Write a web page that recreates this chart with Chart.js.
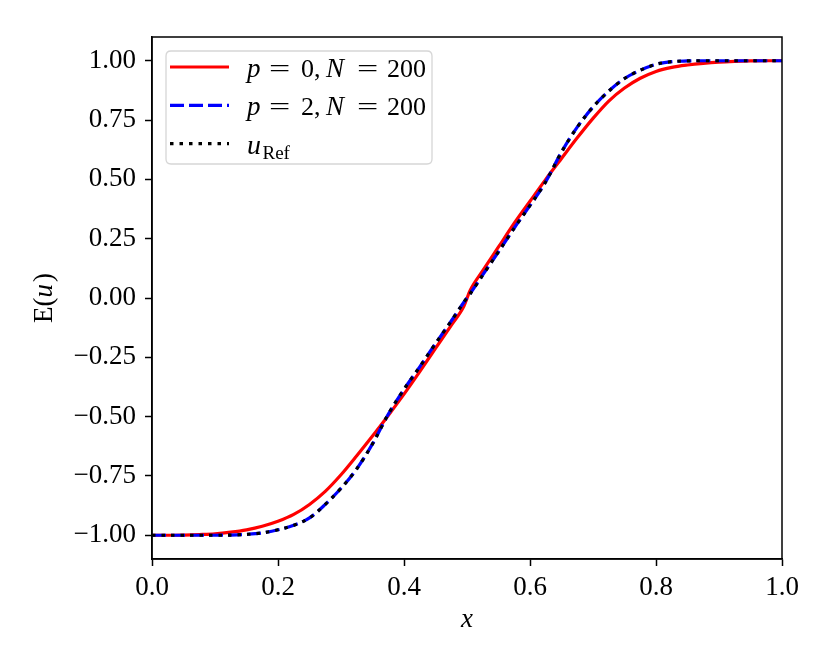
<!DOCTYPE html>
<html>
<head>
<meta charset="utf-8">
<script src="https://cdn.jsdelivr.net/npm/chart.js@4.4.1/dist/chart.umd.min.js"></script>
<style>
    html, body { margin: 0; padding: 0; background: #fff; }
    #wrap { width: 830px; height: 664px; }
</style>
</head>
<body>
<div id="wrap"><canvas id="solutionChart" width="830" height="664"></canvas></div>
<script>
// === Dữ liệu ===
const xValues   = [0, 0.025, 0.05, 0.075, 0.1, 0.125, 0.15, 0.175, 0.2, 0.225, 0.25, 0.275, 0.3, 0.325, 0.35, 0.375, 0.4, 0.425, 0.45, 0.475, 0.495,
                   0.505, 0.525, 0.55, 0.575, 0.6, 0.625, 0.65, 0.675, 0.7, 0.725, 0.75, 0.775, 0.8, 0.825, 0.85, 0.875, 0.9, 0.925, 0.95, 0.975, 1.0];
const p0Values  = [-1.0, -1.0, -0.999, -0.997, -0.994, -0.987, -0.977, -0.962, -0.941, -0.912, -0.870, -0.815, -0.745, -0.665, -0.582, -0.495, -0.405, -0.310, -0.212, -0.115, -0.035,
                   0.032, 0.115, 0.215, 0.315, 0.408, 0.500, 0.588, 0.675, 0.757, 0.830, 0.885, 0.926, 0.955, 0.972, 0.982, 0.989, 0.994, 0.997, 0.999, 1.0, 1.0];
const p2Values  = [-1.0, -1.0, -1.0, -1.0, -1.0, -0.999, -0.996, -0.990, -0.977, -0.958, -0.927, -0.870, -0.802, -0.720, -0.615, -0.490, -0.385, -0.290, -0.192, -0.097, -0.018,
                   0.018, 0.097, 0.195, 0.295, 0.390, 0.490, 0.615, 0.720, 0.805, 0.872, 0.925, 0.960, 0.985, 0.996, 0.999, 1.0, 1.0, 1.0, 1.0, 1.0, 1.0];
const refValues = [-1.0, -1.0, -1.0, -1.0, -1.0, -0.999, -0.996, -0.990, -0.977, -0.958, -0.927, -0.870, -0.802, -0.720, -0.615, -0.490, -0.385, -0.290, -0.192, -0.097, -0.018,
                   0.018, 0.097, 0.195, 0.295, 0.390, 0.490, 0.615, 0.720, 0.805, 0.872, 0.925, 0.960, 0.985, 0.996, 0.999, 1.0, 1.0, 1.0, 1.0, 1.0, 1.0];
const xTicks = [0, 0.2, 0.4, 0.6, 0.8, 1.0];
const yTicks = [-1.0, -0.75, -0.5, -0.25, 0, 0.25, 0.5, 0.75, 1.0];

const FONT = '"Liberation Serif", "DejaVu Serif", serif';

function toPoints(ys) {
    return xValues.map((x, i) => ({ x: x, y: ys[i] }));
}

function fmtY(v) {
    return (v < 0 ? '\u2212' : '') + Math.abs(v).toFixed(2);
}

// vẽ một đoạn chữ, có thể nghiêng / kéo giãn ngang
function piece(ctx, text, x, y, opts = {}) {
    const size = opts.size || 26;
    ctx.save();
    ctx.font = (opts.italic ? 'italic ' : '') + size + 'px ' + FONT;
    ctx.fillStyle = '#000';
    ctx.textBaseline = 'alphabetic';
    ctx.textAlign = 'left';
    ctx.translate(x, y);
    if (opts.stretch) ctx.scale(opts.stretch, 1);
    ctx.fillText(text, 0, 0);
    ctx.restore();
}

function drawLabel(ctx, pVal, x, y) {
    piece(ctx, 'p', x, y, { italic: true, size: 27 });
    piece(ctx, '=', x + 22, y, { stretch: 1.45 });
    piece(ctx, pVal, x + 54, y);
    piece(ctx, ',', x + 67, y);
    piece(ctx, 'N', x + 79, y, { italic: true, size: 27 });
    piece(ctx, '=', x + 110, y, { stretch: 1.45 });
    piece(ctx, '200', x + 140, y);
}

function roundRect(ctx, x, y, w, h, r) {
    ctx.beginPath();
    ctx.moveTo(x + r, y);
    ctx.lineTo(x + w - r, y);
    ctx.quadraticCurveTo(x + w, y, x + w, y + r);
    ctx.lineTo(x + w, y + h - r);
    ctx.quadraticCurveTo(x + w, y + h, x + w - r, y + h);
    ctx.lineTo(x + r, y + h);
    ctx.quadraticCurveTo(x, y + h, x, y + h - r);
    ctx.lineTo(x, y + r);
    ctx.quadraticCurveTo(x, y, x + r, y);
    ctx.closePath();
}

// === Khung, chú thích, nhãn trục ===
const decorPlugin = {
    id: 'decor',
    afterDraw(chart) {
        const ctx = chart.ctx;
        const a = chart.chartArea;

        // khung 4 cạnh
        ctx.save();
        ctx.strokeStyle = '#000';
        ctx.lineWidth = 1.5;
        ctx.strokeRect(a.left, a.top, a.right - a.left, a.bottom - a.top);
        ctx.restore();

        // chú thích
        const lx = a.left + 14, ly = a.top + 14;
        ctx.save();
        roundRect(ctx, lx, ly, 266, 113, 5);
        ctx.fillStyle = 'rgba(255,255,255,0.8)';
        ctx.fill();
        ctx.strokeStyle = '#d6d6d6';
        ctx.lineWidth = 1.3;
        ctx.stroke();

        const rows = [
            { color: '#ff0000', dash: [] },
            { color: '#0000ff', dash: [14, 5] },
            { color: '#000000', dash: [3.5, 6] }
        ];
        rows.forEach((row, i) => {
            const yy = ly + 16 + i * 38.3;
            ctx.beginPath();
            ctx.setLineDash(row.dash);
            ctx.strokeStyle = row.color;
            ctx.lineWidth = 3.2;
            ctx.moveTo(lx + 4, yy);
            ctx.lineTo(lx + 63, yy);
            ctx.stroke();
        });
        ctx.setLineDash([]);
        ctx.restore();

        const tx = lx + 81;
        drawLabel(ctx, '0', tx, ly + 26);
        drawLabel(ctx, '2', tx, ly + 64.3);
        piece(ctx, 'u', tx, ly + 102.6, { italic: true, size: 28 });
        piece(ctx, 'Ref', tx + 15.5, ly + 108, { size: 19 });

        // nhãn trục x
        ctx.save();
        ctx.font = 'italic 27px ' + FONT;
        ctx.fillStyle = '#000';
        ctx.textAlign = 'center';
        ctx.textBaseline = 'middle';
        ctx.fillText('x', (a.left + a.right) / 2, 620);
        ctx.restore();

        // nhãn trục y: E(u)
        ctx.save();
        ctx.translate(52, (a.top + a.bottom) / 2);
        ctx.rotate(-Math.PI / 2);
        const parts = [
            { t: 'E', it: false }, { t: '(', it: false },
            { t: 'u', it: true }, { t: ')', it: false }
        ];
        let total = 0;
        parts.forEach(p => {
            ctx.font = (p.it ? 'italic ' : '') + '27px ' + FONT;
            p.w = ctx.measureText(p.t).width + (p.it ? 2 : 0);
            total += p.w;
        });
        let cx = -total / 2;
        ctx.fillStyle = '#000';
        ctx.textBaseline = 'alphabetic';
        parts.forEach(p => {
            ctx.font = (p.it ? 'italic ' : '') + '27px ' + FONT;
            ctx.fillText(p.t, cx, 0);
            cx += p.w;
        });
        ctx.restore();
    }
};

// === Khởi chạy ===
document.addEventListener('DOMContentLoaded', () => {
    const ctx = document.getElementById('solutionChart').getContext('2d');
    new Chart(ctx, {
        type: 'line',
        data: {
            datasets: [
                {
                    label: 'p = 0, N = 200',
                    data: toPoints(p0Values),
                    borderColor: '#ff0000',
                    borderWidth: 3.2,
                    order: 3
                },
                {
                    label: 'p = 2, N = 200',
                    data: toPoints(p2Values),
                    borderColor: '#0000ff',
                    borderWidth: 3.2,
                    borderDash: [14, 5],
                    order: 2
                },
                {
                    label: 'u_Ref',
                    data: toPoints(refValues),
                    borderColor: '#000000',
                    borderWidth: 3.2,
                    borderDash: [3.5, 6],
                    order: 1
                }
            ]
        },
        options: {
            responsive: false,
            devicePixelRatio: 1,
            animation: false,
            parsing: false,
            elements: {
                point: { radius: 0, hoverRadius: 0 },
                line: { fill: false, cubicInterpolationMode: 'monotone' }
            },
            layout: { padding: { left: 0, top: 37, right: 48, bottom: 0 } },
            scales: {
                x: {
                    type: 'linear',
                    min: 0,
                    max: 1,
                    afterBuildTicks(scale) {
                        scale.ticks = xTicks.map(v => ({ value: v }));
                    },
                    afterFit(scale) { scale.height = 105; },
                    grid: {
                        display: true,
                        drawOnChartArea: false,
                        drawTicks: true,
                        tickLength: 7,
                        tickWidth: 1.5,
                        tickColor: '#000'
                    },
                    border: { display: true, color: '#000', width: 1.5 },
                    ticks: {
                        color: '#000',
                        padding: 6,
                        maxRotation: 0,
                        font: { family: FONT, size: 27 },
                        callback: v => v.toFixed(1)
                    }
                },
                y: {
                    type: 'linear',
                    min: -1.1,
                    max: 1.1,
                    afterBuildTicks(scale) {
                        scale.ticks = yTicks.map(v => ({ value: v }));
                    },
                    afterFit(scale) { scale.width = 152; },
                    grid: {
                        display: true,
                        drawOnChartArea: false,
                        drawTicks: true,
                        tickLength: 7,
                        tickWidth: 1.5,
                        tickColor: '#000'
                    },
                    border: { display: true, color: '#000', width: 1.5 },
                    ticks: {
                        color: '#000',
                        padding: 9,
                        font: { family: FONT, size: 27 },
                        callback: v => fmtY(v)
                    }
                }
            },
            plugins: {
                legend: { display: false },
                tooltip: { enabled: false }
            }
        },
        plugins: [decorPlugin]
    });
});
</script>
</body>
</html>
